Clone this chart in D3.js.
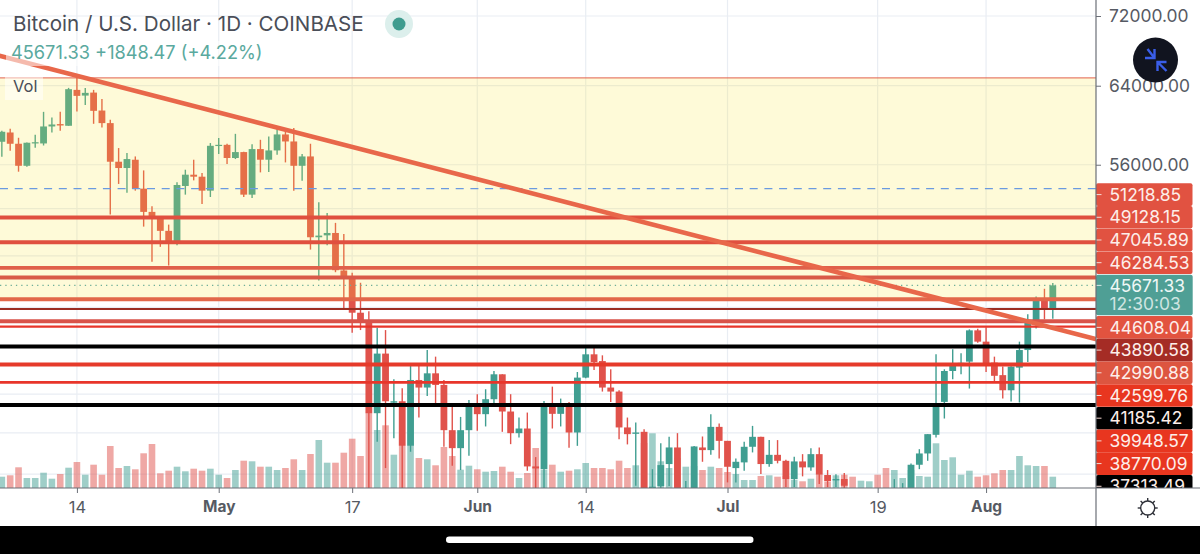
<!DOCTYPE html>
<html>
<head>
<meta charset="utf-8">
<script src="https://cdn.jsdelivr.net/npm/d3@7"></script>
<style>
html, body { margin: 0; padding: 0; background: #fff; }
svg { display: block; }
text { font-family: Inter, "Noto Sans", sans-serif; }
</style>
</head>
<body>
<div id="chart"></div>
<script>
// daily candles, 5 Apr to 9 Aug
const startDate = new Date(Date.UTC(2021, 3, 5));
const endDate = new Date(Date.UTC(2021, 7, 9));

const opens = [
    58216, 59135, 58020, 55900, 58050, 58050, 59740, 59980, 59810, 63550,
    62940, 63260, 61370, 60080, 56285, 55690, 56475, 53780, 51710, 51275,
    50080, 49205, 54025, 55065, 54880, 53600, 57820, 57915, 56640, 57210,
    53240, 57500, 56475, 57370, 58940, 58245, 55900, 56790, 49540, 49700,
    49900, 46835, 46310, 43610, 43050, 36800, 40700, 37460, 37550, 34825,
    38925, 38430, 39365, 38600, 35760, 34690, 35760, 37360, 36740, 37680,
    39300, 36905, 35580, 35860, 33635, 33480, 37320, 36760, 37360, 35620,
    39080, 40650, 40190, 38430, 38170, 35925, 35540, 35660, 31600, 32540,
    33770, 34730, 31600, 32370, 34730, 34575, 35960, 35120, 33540, 33865,
    34770, 35360, 33770, 34300, 33955, 32925, 33920, 33580, 34340, 33150,
    32850, 32925, 31870, 31400, 31530, 31795, 30840, 29800, 32140, 32290,
    33730, 34380, 35480, 37510, 39520, 39970, 40150, 42330, 41530, 40085,
    39245, 38255, 39745, 40945, 43000, 44650, 43905
];
const highs = [
    59305, 59505, 58610, 58150, 58900, 61235, 60650, 61235, 63765, 64900,
    63765, 63550, 62590, 60415, 57600, 57115, 56790, 55465, 52200, 51325,
    50610, 54355, 55530, 56475, 55225, 58090, 58580, 58010, 59000, 57240,
    57980, 58410, 58740, 59505, 59235, 59575, 57020, 58020, 52550, 51620,
    50760, 49820, 46655, 45875, 43710, 42520, 42350, 38970, 38385, 39900,
    39900, 40945, 40490, 38925, 37255, 36570, 37630, 38000, 38320, 39520,
    39300, 38000, 36530, 36840, 34170, 37570, 38490, 37720, 37510, 39455,
    41110, 41225, 40580, 39635, 38255, 36530, 36230, 35820, 33480, 34985,
    35360, 35580, 32810, 34810, 35380, 36740, 36170, 35120, 34095, 35060,
    36020, 35360, 35165, 35165, 34010, 34190, 34340, 34690, 34730, 33430,
    33200, 33260, 32250, 31950, 32430, 31880, 31060, 32920, 32700, 33800,
    34630, 35520, 40650, 39635, 40995, 40715, 42400, 42450, 42560, 40490,
    39815, 39835, 41530, 43490, 44825, 45410, 45850
];
const lows = [
    56763, 57340, 55345, 55810, 57630, 57850, 59135, 59305, 59810, 61270,
    61960, 60010, 59635, 51475, 54210, 53420, 53600, 50440, 47530, 48745,
    47230, 48875, 53240, 54540, 52410, 53030, 57020, 56065, 56540, 53030,
    52940, 55280, 55320, 56950, 56220, 53600, 54510, 48520, 46050, 48875,
    46700, 43855, 42165, 42350, 30000, 35060, 33540, 35280, 32000, 34480,
    36530, 37890, 37255, 34770, 33670, 33430, 34240, 35720, 35985, 37255,
    35660, 34925, 35320, 33390, 32370, 32370, 35860, 35985, 34710, 34825,
    39035, 39585, 38170, 37510, 35220, 34910, 32555, 31000, 28800, 31900,
    32540, 31300, 30200, 31800, 33900, 34300, 34095, 32740, 32740, 33390,
    34440, 33205, 33615, 33810, 32480, 32480, 33075, 33390, 32650, 32480,
    32480, 32000, 31200, 31170, 31220, 30430, 29300, 29500, 31700, 31700,
    33480, 33955, 35320, 36470, 38970, 39300, 38365, 41460, 39455, 38755,
    37725, 37535, 37470, 40125, 42470, 43120, 43170
];
const closes = [
    59207, 58020, 55900, 58120, 58170, 59740, 59940, 59840, 63625, 62910,
    63230, 61340, 60080, 56285, 55690, 56540, 53750, 51710, 51275, 50080,
    49205, 54115, 55065, 54880, 53600, 57820, 57915, 56640, 57210, 53240,
    57500, 56475, 57370, 58940, 58245, 55900, 56790, 49540, 49680, 49900,
    46860, 46310, 43610, 43050, 36800, 40700, 37550, 37550, 34825, 38925,
    38430, 39365, 38600, 35760, 34690, 35760, 37360, 36740, 37680, 39300,
    36905, 35580, 35860, 33635, 33520, 37320, 36760, 37320, 35620, 39080,
    40650, 40125, 38430, 38170, 35925, 35520, 35620, 31600, 32500, 33710,
    34730, 31600, 32370, 34790, 34575, 35960, 35120, 33615, 33900, 34770,
    35360, 33770, 34300, 33955, 32925, 33920, 33580, 34340, 33165, 32800,
    32925, 32555, 31380, 31530, 31795, 30840, 29800, 32140, 32290, 33730,
    34380, 35520, 37425, 39520, 39970, 40070, 42330, 41530, 40040, 39200,
    38255, 39815, 40945, 43000, 44650, 43905, 45671.33
];
const volumes = [
    11.3, 12.7, 20.7, 10, 10, 15.3, 9.3, 14, 20.3, 26,
    13.3, 23.3, 13.3, 42, 20, 22, 18.7, 34.7, 44, 14.7,
    17.3, 21.3, 16.7, 19.3, 17.3, 19.3, 13.3, 10, 18, 27.3,
    26.7, 21.3, 21.3, 18, 20, 28.7, 18, 34, 48, 25.3,
    25.3, 35.3, 49.3, 32, 75, 58, 62.7, 33.3, 42, 42,
    30, 28.7, 22.7, 41, 32, 18.3, 22.3, 18.7, 16.3, 17,
    21.3, 16.3, 10, 15, 40, 18.3, 23.3, 16.3, 17.3, 18.7,
    25, 20, 20, 18.7, 27.3, 20, 22.7, 45, 54.7, 26.7,
    20, 30, 21.3, 22, 18, 21.3, 20, 16, 14, 8,
    8, 12, 12.7, 11.3, 12, 8.3, 6.7, 9.3, 13, 6,
    12.7, 13.3, 11.3, 7.3, 6.7, 13.3, 20, 18, 10, 18,
    12, 11.3, 44.7, 28, 30.7, 13.3, 17.3, 11.3, 12.7, 14.7,
    18, 18, 32, 22.7, 22, 22, 11.3
];

// horizontal levels drawn by the author, top to bottom
const levelPrices = [51218.85, 49128.15, 47045.89, 46284.53, 44608.04, 43890.58, 42990.88, 42599.76, 41185.42, 39948.57, 38770.09, 37313.49];
const zoneTop = 64850;
const dashedPrice = 53790;
const lastPrice = 45671.33;
const countdown = "12:30:03";

const trendDates = [new Date(Date.UTC(2021, 3, 4)), new Date(Date.UTC(2021, 7, 15))];
const trendPrices = [67490, 41590];

const priceTicks = [72000, 64000, 56000];
const gridPrices = [72000, 64000, 56000, 52000, 48000, 44000, 40000, 38000, 35600, 33200];
const tickDates = [
    new Date(Date.UTC(2021, 3, 14)), new Date(Date.UTC(2021, 4, 1)), new Date(Date.UTC(2021, 4, 17)), new Date(Date.UTC(2021, 5, 1)),
    new Date(Date.UTC(2021, 5, 14)), new Date(Date.UTC(2021, 6, 1)), new Date(Date.UTC(2021, 6, 19)), new Date(Date.UTC(2021, 7, 1))
];
const tickLabels = ["14", "May", "17", "Jun", "14", "Jul", "19", "Aug"];

// styles, same order as levelPrices
const levelColors = ["#e0503f", "#e0503f", "#e0604a", "#d95a47", "#e2674a", "#9b2d22", "#d9534a", "#e8352a", "#000", "#e63a2a", "#e8352a", "#000"];
const levelWidths = [4, 4, 3.8, 3.8, 4, 2, 4, 2.2, 4, 4, 2.6, 4];
const labelColors = ["#e15241", "#e15241", "#e15241", "#e0503f", "#e2533f", "#a52c25", "#dd5540", "#e8361f", "#000", "#e8361f", "#e8361f", "#000"];

const upColor = "#409e91";
const downColor = "#e0524b";

const width = 1200;
const height = 554;
const paneRight = 1096;
const paneBottom = 488;
const axisBottom = 526;
const axisFontSize = 17.4;

const dates = d3.utcDay.range(startDate, d3.utcDay.offset(endDate, 1));

const xScale = d3.scaleUtc()
    .domain([startDate, endDate])
    .range([1.85, 1052.8]);

const yScale = d3.scaleLog()
    .domain([72000, 37313.49])
    .range([16, 405]);

const volScale = d3.scaleLinear()
    .domain([0, 100])
    .range([paneBottom, paneBottom - 100]);

const svg = d3.select("#chart").append("svg").attr("width", width).attr("height", height);

svg.append("clipPath").attr("id", "pane").append("rect")
    .attr("width", paneRight).attr("height", paneBottom);
svg.append("clipPath").attr("id", "labels").append("rect")
    .attr("x", paneRight).attr("width", width - paneRight).attr("height", paneBottom);

const pane = svg.append("g").attr("clip-path", "url(#pane)");

// grid
pane.selectAll(".grid-y").data(gridPrices).join("line")
    .attr("x1", 0).attr("x2", paneRight)
    .attr("y1", d => yScale(d)).attr("y2", d => yScale(d))
    .attr("stroke", "#e9edf3").attr("stroke-width", 1.2);
pane.selectAll(".grid-x").data(tickDates).join("line")
    .attr("x1", d => xScale(d)).attr("x2", d => xScale(d))
    .attr("y1", 0).attr("y2", paneBottom)
    .attr("stroke", "#e9edf3").attr("stroke-width", 1.2);

// volume
pane.selectAll(".vol").data(dates).join("rect")
    .attr("x", d => xScale(d) - 3.3)
    .attr("width", 6.6)
    .attr("y", (d, i) => volScale(volumes[i]))
    .attr("height", (d, i) => paneBottom - volScale(volumes[i]))
    .attr("fill", (d, i) => closes[i] >= opens[i] ? upColor : downColor)
    .attr("opacity", 0.5);

// candles
pane.selectAll(".wick").data(dates).join("line")
    .attr("x1", d => xScale(d)).attr("x2", d => xScale(d))
    .attr("y1", (d, i) => yScale(highs[i]))
    .attr("y2", (d, i) => yScale(lows[i]))
    .attr("stroke", (d, i) => closes[i] >= opens[i] ? upColor : downColor)
    .attr("stroke-width", 1.4);
pane.selectAll(".body").data(dates).join("rect")
    .attr("x", d => xScale(d) - 3.4)
    .attr("width", 6.8)
    .attr("y", (d, i) => yScale(Math.max(opens[i], closes[i])))
    .attr("height", (d, i) => Math.max(1.2, yScale(Math.min(opens[i], closes[i])) - yScale(Math.max(opens[i], closes[i]))))
    .attr("fill", (d, i) => closes[i] >= opens[i] ? upColor : downColor);

// yellow zone sits over the candles
pane.append("rect")
    .attr("x", 0).attr("width", paneRight)
    .attr("y", yScale(zoneTop))
    .attr("height", yScale(levelPrices[4]) - yScale(zoneTop))
    .attr("fill", "#f8e83c").attr("fill-opacity", 0.2);
pane.append("line")
    .attr("x1", 0).attr("x2", paneRight)
    .attr("y1", yScale(zoneTop)).attr("y2", yScale(zoneTop))
    .attr("stroke", "#e2604a").attr("stroke-width", 1);

// dashed and dotted price lines
pane.append("line")
    .attr("x1", 0).attr("x2", paneRight)
    .attr("y1", yScale(dashedPrice)).attr("y2", yScale(dashedPrice))
    .attr("stroke", "#6a9ae0").attr("stroke-width", 1.3).attr("stroke-dasharray", "8,6.7");
pane.append("line")
    .attr("x1", 0).attr("x2", paneRight)
    .attr("y1", yScale(lastPrice)).attr("y2", yScale(lastPrice))
    .attr("stroke", "#6fae98").attr("stroke-width", 1.2).attr("stroke-dasharray", "1.3,4");

// horizontal levels
pane.selectAll(".level").data(levelPrices).join("line")
    .attr("x1", 0).attr("x2", paneRight)
    .attr("y1", d => yScale(d)).attr("y2", d => yScale(d))
    .attr("stroke", (d, i) => levelColors[i])
    .attr("stroke-width", (d, i) => levelWidths[i]);

// trend line
pane.append("path")
    .datum(trendDates)
    .attr("d", d3.line().x(d => xScale(d)).y((d, i) => yScale(trendPrices[i])))
    .attr("fill", "none")
    .attr("stroke", "#e8674a")
    .attr("stroke-width", 4.6);

// legend backdrops
svg.append("rect").attr("x", 6).attr("y", 41).attr("width", 260).attr("height", 25)
    .attr("fill", "#fff").attr("fill-opacity", 0.55);
svg.append("rect").attr("x", 5).attr("y", 75).attr("width", 38).attr("height", 25)
    .attr("fill", "#fff").attr("fill-opacity", 0.5);

const textColor = "#4a4e58";
svg.append("text").attr("x", 13).attr("y", 31)
    .attr("font-size", 20.6).attr("fill", textColor)
    .text("Bitcoin / U.S. Dollar · 1D · COINBASE");
svg.append("circle").attr("cx", 399).attr("cy", 24).attr("r", 14).attr("fill", "#dcefec");
svg.append("circle").attr("cx", 399).attr("cy", 24).attr("r", 6.5).attr("fill", "#3f9c8f");
svg.append("text").attr("x", 11).attr("y", 59)
    .attr("font-size", 18.2).attr("fill", "#5aa99e")
    .text("45671.33  +1848.47 (+4.22%)");
svg.append("text").attr("x", 13).attr("y", 92)
    .attr("font-size", 16.5).attr("fill", textColor)
    .text("Vol");

// right axis
const yAxis = d3.axisRight(yScale)
    .tickValues(priceTicks)
    .tickFormat(d => d.toFixed(2))
    .tickSize(5)
    .tickPadding(8);
const yAxisG = svg.append("g")
    .attr("transform", `translate(${paneRight},0)`)
    .call(yAxis);
yAxisG.select(".domain").remove();
yAxisG.selectAll("line").attr("stroke", "#6b6f77");
yAxisG.selectAll("text")
    .attr("font-size", axisFontSize).attr("fill", "#565a63")
    .style("font-family", "Inter, sans-serif");

// price labels are stacked so that they do not overlap
const labelStep = 22.7;
const labelHeight = 22.6;
const lastLabelY = yScale(lastPrice);
const labelLayer = svg.append("g").attr("clip-path", "url(#labels)");
const labelYs = levelPrices.map((d, i) => {
    if (i < 4) return lastLabelY - (4 - i) * labelStep;
    return lastLabelY + 42 + (i - 4) * labelStep;
});

labelLayer.selectAll(".label-box").data(levelPrices).join("rect")
    .attr("x", paneRight).attr("width", 96.5)
    .attr("y", (d, i) => labelYs[i] - labelHeight / 2)
    .attr("height", labelHeight)
    .attr("rx", 2)
    .attr("fill", (d, i) => labelColors[i]);
labelLayer.selectAll(".label-tick").data(levelPrices).join("line")
    .attr("x1", paneRight).attr("x2", paneRight + 5.5)
    .attr("y1", (d, i) => labelYs[i]).attr("y2", (d, i) => labelYs[i])
    .attr("stroke", "#f6d9d3").attr("stroke-width", 1);
labelLayer.selectAll(".label-text").data(levelPrices).join("text")
    .attr("x", paneRight + 13.5)
    .attr("y", (d, i) => labelYs[i] + 6.2)
    .attr("font-size", axisFontSize).attr("fill", "#fdeeea")
    .text(d => d.toFixed(2));

labelLayer.append("rect")
    .attr("x", paneRight).attr("width", 96.7)
    .attr("y", lastLabelY - 10.6).attr("height", 40.4)
    .attr("rx", 2).attr("fill", "#4f9f95");
labelLayer.append("line")
    .attr("x1", paneRight).attr("x2", paneRight + 5.5)
    .attr("y1", lastLabelY).attr("y2", lastLabelY)
    .attr("stroke", "#d5e9e6").attr("stroke-width", 1);
labelLayer.append("text")
    .attr("x", paneRight + 13.5).attr("y", lastLabelY + 6.2)
    .attr("font-size", axisFontSize).attr("fill", "#eef7f5")
    .text(lastPrice.toFixed(2));
labelLayer.append("text")
    .attr("x", paneRight + 13.5).attr("y", lastLabelY + 24.8)
    .attr("font-size", axisFontSize).attr("fill", "#cfe5e1")
    .text(countdown);

// time axis
const xAxis = d3.axisBottom(xScale)
    .tickValues(tickDates)
    .tickFormat((d, i) => tickLabels[i])
    .tickSize(5)
    .tickPadding(8);
const xAxisG = svg.append("g")
    .attr("transform", `translate(0,${paneBottom})`)
    .call(xAxis);
xAxisG.select(".domain").remove();
xAxisG.selectAll("line").attr("stroke", "#6b6f77");
xAxisG.selectAll("text")
    .attr("font-size", (d, i) => /[a-z]/.test(tickLabels[i]) ? 15.5 : 16.5)
    .attr("fill", "#565a63")
    .attr("font-weight", (d, i) => /[a-z]/.test(tickLabels[i]) ? 700 : 400)
    .style("font-family", "Inter, sans-serif");

svg.append("line").attr("x1", 0).attr("x2", width)
    .attr("y1", paneBottom).attr("y2", paneBottom)
    .attr("stroke", "#6b6f77").attr("stroke-width", 1.2);
svg.append("line").attr("x1", paneRight).attr("x2", paneRight)
    .attr("y1", 0).attr("y2", axisBottom)
    .attr("stroke", "#6b6f77").attr("stroke-width", 1.2);

// settings icon
const sun = svg.append("g").attr("transform", "translate(1147.7,508)")
    .attr("stroke", "#2e3038").attr("fill", "none").attr("stroke-width", 1.4);
sun.append("circle").attr("r", 7);
d3.range(8).forEach(i => {
    const a = i * Math.PI / 4 + Math.PI / 2;
    sun.append("line")
        .attr("x1", Math.cos(a) * 7).attr("y1", Math.sin(a) * 7)
        .attr("x2", Math.cos(a) * 10).attr("y2", Math.sin(a) * 10);
});

// floating button
const btn = svg.append("g").attr("transform", "translate(1155.5,60)");
btn.append("circle").attr("r", 22.5).attr("fill", "#11141f");
btn.append("path")
    .attr("d", "M-8,-11 L-1,-2 M-10.5,-2 L-1,-2 L-1,-11 M11,11 L2,2 M2,11 L2,2 L11,2")
    .attr("fill", "none").attr("stroke", "#3a5ee8").attr("stroke-width", 2.4);

// phone bars at the bottom
svg.append("rect").attr("x", 0).attr("y", axisBottom).attr("width", width).attr("height", height - axisBottom).attr("fill", "#000");
svg.append("rect").attr("x", 446).attr("y", 536.5).attr("width", 307.5).attr("height", 6.5).attr("rx", 3.2).attr("fill", "#fff");
</script>
</body>
</html>
